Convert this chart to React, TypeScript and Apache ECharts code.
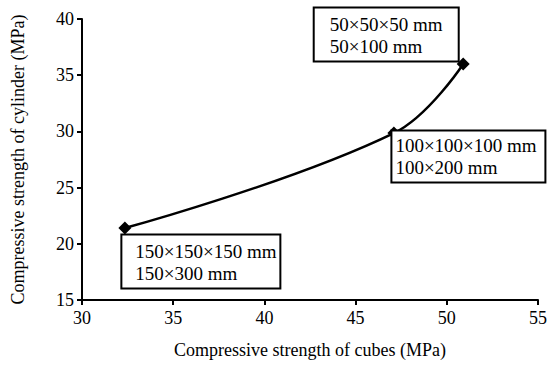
import React, { useEffect, useRef } from "react";
import * as echarts from "echarts";

const cubeStrength = [32.35, 47.1, 50.9];
const cylinderStrength = [21.4, 29.85, 36.0];
const specimenLabels = [
  "150×150×150 mm\n150×300 mm",
  "100×100×100 mm\n100×200 mm",
  "50×50×50 mm\n50×100 mm",
];
const xAxisTitle = "Compressive strength of cubes (MPa)";
const yAxisTitle = "Compressive strength of cylinder (MPa)";

const FONT = "'Liberation Serif', 'Times New Roman', serif";

const labelStyles: any[] = [
  { position: [4, 14], padding: [5, 4, 3, 13], width: 140 },
  { position: [5, 5], padding: [3, 3, 3, 3], width: 146 },
  { position: [-142, -49], padding: [5, 4, 3, 15], width: 124 },
];

export default function App() {
  const ref = useRef<HTMLDivElement>(null);
  useEffect(() => {
    document.body.style.margin = "0";
    if (!ref.current) return;
    const chart = echarts.init(ref.current, null, { renderer: "svg" });
    const data = cubeStrength.map((x, i) => ({
      value: [x, cylinderStrength[i]],
      label: {
        show: true,
        formatter: specimenLabels[i],
        position: labelStyles[i].position,
        padding: labelStyles[i].padding,
        width: labelStyles[i].width,
        align: "left",
        verticalAlign: "top",
        lineHeight: 22,
        fontSize: 19,
        fontFamily: FONT,
        color: "#000",
        backgroundColor: "#fff",
        borderColor: "#000",
        borderWidth: 2,
      },
    }));
    chart.setOption({
      animation: false,
      textStyle: { fontFamily: FONT, color: "#000" },
      grid: { left: 82, right: 12, top: 19, bottom: 65 },
      xAxis: {
        type: "value",
        min: 30,
        max: 55,
        interval: 5,
        name: xAxisTitle,
        nameLocation: "middle",
        nameGap: 41,
        nameTextStyle: { fontSize: 18, fontFamily: FONT, color: "#000" },
        axisLine: { show: true, lineStyle: { color: "#000", width: 2 } },
        axisTick: { show: true, length: 5, lineStyle: { color: "#000", width: 2 } },
        axisLabel: { fontSize: 18, fontFamily: FONT, color: "#000", margin: 9 },
        splitLine: { show: false },
      },
      yAxis: {
        type: "value",
        min: 15,
        max: 40,
        interval: 5,
        name: yAxisTitle,
        nameLocation: "middle",
        nameGap: 55,
        nameTextStyle: { fontSize: 18, fontFamily: FONT, color: "#000" },
        axisLine: { show: true, lineStyle: { color: "#000", width: 2 } },
        axisTick: { show: true, length: 5, lineStyle: { color: "#000", width: 2 } },
        axisLabel: { fontSize: 18, fontFamily: FONT, color: "#000", margin: 8 },
        splitLine: { show: false },
      },
      series: [
        {
          type: "line",
          data,
          smooth: 0.4,
          symbol: "diamond",
          symbolSize: 13,
          itemStyle: { color: "#000" },
          lineStyle: { color: "#000", width: 2.5 },
          z: 3,
        },
      ],
    });
    return () => chart.dispose();
  }, []);
  return <div ref={ref} style={{ width: 550, height: 365 }} />;
}
